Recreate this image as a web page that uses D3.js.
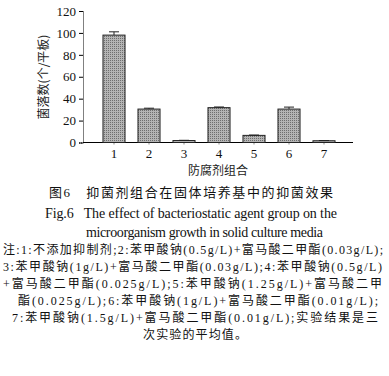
<!DOCTYPE html>
<html>
<head>
<meta charset="utf-8">
<script src="https://cdn.jsdelivr.net/npm/d3@7"></script>
<style>
  body { margin: 0; background: #fff; }
  svg { display: block; }
</style>
</head>
<body>
<div id="chart"></div>
<script>
const categories = ["1", "2", "3", "4", "5", "6", "7"];
const counts = [98, 30.5, 1.8, 31.8, 6.5, 30.5, 1.6];
const errors = [3, 0.8, 0.2, 0.6, 0.3, 1.8, 0.2];
const yTicks = [0, 20, 40, 60, 80, 100, 120];

const yLabel = "菌落数(个/平板)";
const xLabel = "防腐剂组合";
const titleCn = "图6\u3000抑菌剂组合在固体培养基中的抑菌效果";
const titleEn = ["Fig.6\u2002 The effect of bacteriostatic agent group on the",
                 "microorganism growth in solid culture media"];
const noteLines = [
  "注:1:不添加抑制剂;2:苯甲酸钠(0.5g/L)+富马酸二甲酯(0.03g/L);",
  "3:苯甲酸钠(1g/L)+富马酸二甲酯(0.03g/L);4:苯甲酸钠(0.5g/L)",
  "+富马酸二甲酯(0.025g/L);5:苯甲酸钠(1.25g/L)+富马酸二甲",
  "酯(0.025g/L);6:苯甲酸钠(1g/L)+富马酸二甲酯(0.01g/L);",
  "7:苯甲酸钠(1.5g/L)+富马酸二甲酯(0.01g/L);实验结果是三",
  "次实验的平均值。"
];

const svg = d3.select("#chart").append("svg")
  .attr("width", 389)
  .attr("height", 376);

const serif = "'Liberation Serif', 'DejaVu Serif', serif";
const mixed = "'Liberation Serif', 'Noto Sans CJK SC', serif";
const cjk = "'Noto Sans CJK SC', sans-serif";

// stipple fill for the bars
const pat = svg.append("defs").append("pattern")
  .attr("id", "dots")
  .attr("width", 2).attr("height", 2)
  .attr("patternUnits", "userSpaceOnUse");
pat.append("rect").attr("width", 2).attr("height", 2).attr("fill", "#b4b4b4");
pat.append("rect").attr("width", 1).attr("height", 1).attr("fill", "#6e6e6e");

const x = d3.scaleBand()
  .domain(categories)
  .range([96.5, 341.5])
  .paddingInner(0.37)
  .paddingOuter(0.185);

const y = d3.scaleLinear()
  .domain([0, 120])
  .range([142.5, 11]);

// y axis
const yAxis = svg.append("g")
  .attr("transform", "translate(83,0)")
  .call(d3.axisLeft(y).tickValues(yTicks).tickSize(4).tickPadding(3));
yAxis.select(".domain").attr("stroke", "#000").attr("stroke-dasharray", "1,1");
yAxis.selectAll("text").style("font-family", serif).style("font-size", "13px").attr("fill", "#111");

// x axis
const xAxis = svg.append("g")
  .attr("transform", "translate(0,142.5)")
  .call(d3.axisBottom(x).tickSize(2).tickPadding(4));
xAxis.select(".domain").remove();
xAxis.selectAll(".tick line").attr("stroke", "#888");
xAxis.selectAll("text").style("font-family", serif).style("font-size", "13px").attr("fill", "#111");
svg.append("line")
  .attr("x1", 83).attr("x2", 353)
  .attr("y1", 142.5).attr("y2", 142.5)
  .attr("stroke", "#000").attr("stroke-width", 1.2);

// bars
svg.selectAll(".bar").data(categories).enter()
  .append("rect")
  .attr("class", "bar")
  .attr("x", d => x(d))
  .attr("y", (d, i) => y(counts[i]))
  .attr("width", x.bandwidth())
  .attr("height", (d, i) => y(0) - y(counts[i]))
  .attr("fill", "url(#dots)")
  .attr("stroke", "#222")
  .attr("stroke-width", 1);

// error bars
const err = svg.selectAll(".err").data(categories).enter().append("g").attr("class", "err");
err.append("line")
  .attr("x1", d => x(d) + x.bandwidth() / 2)
  .attr("x2", d => x(d) + x.bandwidth() / 2)
  .attr("y1", (d, i) => y(counts[i]))
  .attr("y2", (d, i) => y(counts[i] + errors[i]))
  .attr("stroke", "#222");
err.append("line")
  .attr("x1", d => x(d) + x.bandwidth() / 2 - 5)
  .attr("x2", d => x(d) + x.bandwidth() / 2 + 5)
  .attr("y1", (d, i) => y(counts[i] + errors[i]))
  .attr("y2", (d, i) => y(counts[i] + errors[i]))
  .attr("stroke", "#222");

// axis titles
svg.append("text")
  .attr("transform", "translate(48,77) rotate(-90)")
  .attr("text-anchor", "middle")
  .style("font-family", cjk)
  .style("font-size", "12px")
  .attr("fill", "#222")
  .text(yLabel);

svg.append("text")
  .attr("x", 218).attr("y", 175)
  .attr("text-anchor", "middle")
  .style("font-family", cjk)
  .style("font-size", "12px")
  .attr("fill", "#222")
  .text(xLabel);

// caption
svg.append("text")
  .attr("x", 49).attr("y", 197)
  .attr("textLength", 284).attr("lengthAdjust", "spacing")
  .style("font-family", mixed)
  .style("font-size", "13px")
  .attr("fill", "#111")
  .text(titleCn);

const enX = [[45, 337], [86, 323]];
svg.selectAll(".en").data(titleEn).enter()
  .append("text")
  .attr("class", "en")
  .attr("x", (d, i) => enX[i][0])
  .attr("y", (d, i) => 218 + i * 19)
  .attr("textLength", (d, i) => enX[i][1] - enX[i][0])
  .attr("lengthAdjust", "spacing")
  .style("font-family", serif)
  .style("font-size", "14px")
  .attr("fill", "#111")
  .text(d => d);

// note, justified like the printed block
const noteX = [[3, 383], [3, 382], [3, 382], [18, 378], [12, 378], [143, 247]];
svg.selectAll(".note").data(noteLines).enter()
  .append("text")
  .attr("class", "note")
  .attr("x", (d, i) => noteX[i][0])
  .attr("y", (d, i) => 254 + i * 17)
  .attr("textLength", (d, i) => noteX[i][1] - noteX[i][0])
  .attr("lengthAdjust", "spacing")
  .style("font-family", mixed)
  .style("font-size", "12px")
  .attr("fill", "#111")
  .text(d => d);
</script>
</body>
</html>
